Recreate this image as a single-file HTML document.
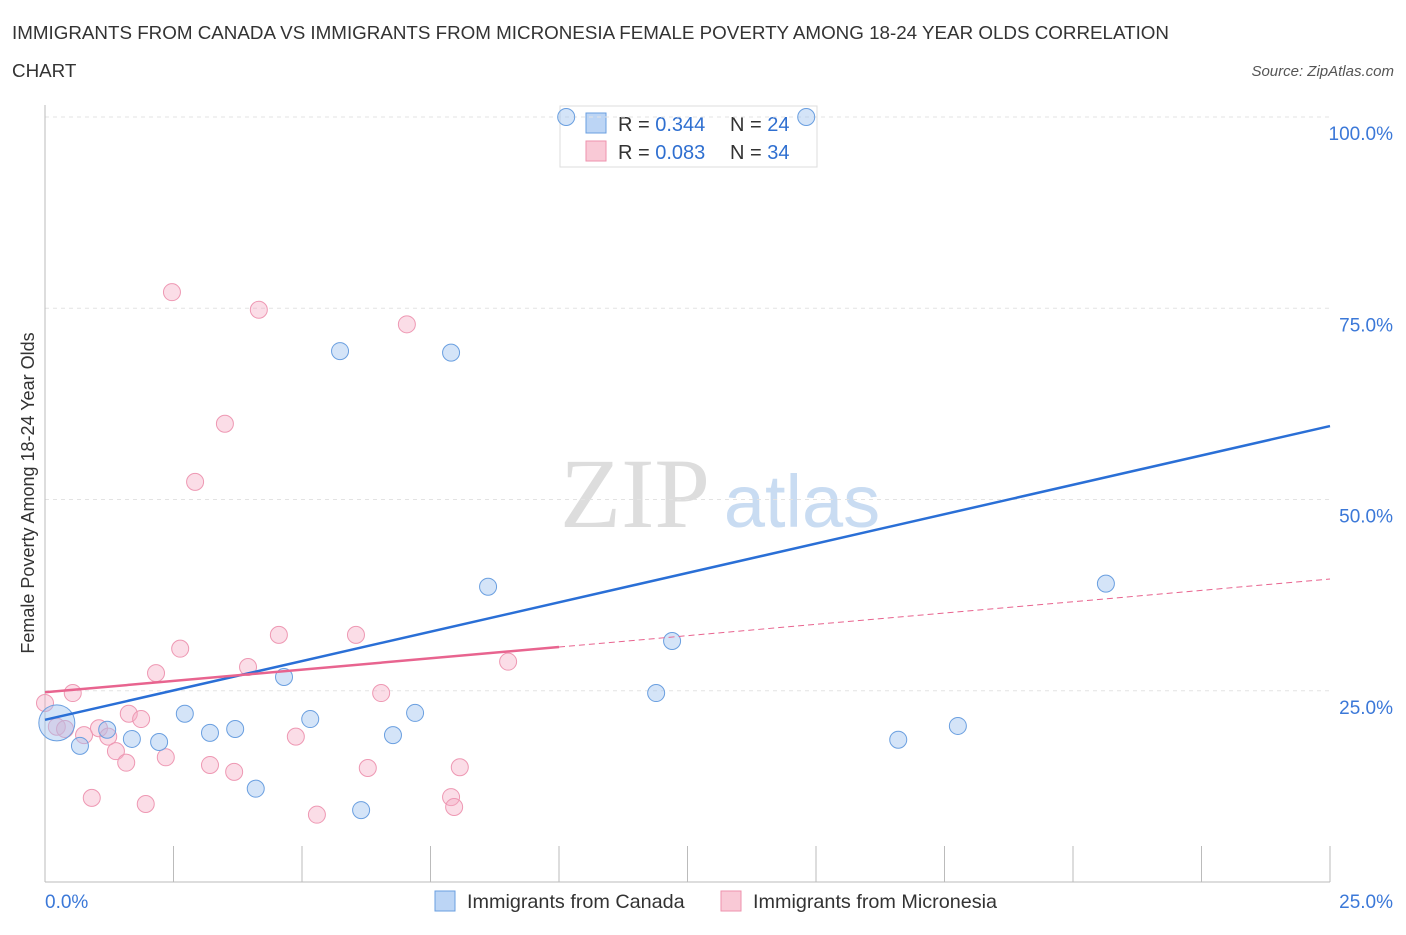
<!DOCTYPE html>
<html><head><meta charset="utf-8"><style>
body{margin:0;background:#fff;font-family:"Liberation Sans",sans-serif}
</style></head><body>
<svg width="1406" height="930" viewBox="0 0 1406 930" id="chart" font-family="Liberation Sans, sans-serif">
<text x="12" y="39" font-size="18.8" fill="#333">IMMIGRANTS FROM CANADA VS IMMIGRANTS FROM MICRONESIA FEMALE POVERTY AMONG 18-24 YEAR OLDS CORRELATION</text>
<text x="12" y="77" font-size="18.8" fill="#333">CHART</text>
<text x="1394" y="76" font-size="15" fill="#555" font-style="italic" text-anchor="end">Source: ZipAtlas.com</text>
<text x="635" y="527" font-size="100" fill="#ddd" style="font-family:'Liberation Serif',serif" text-anchor="middle">ZIP</text>
<text x="802" y="527" font-size="74" fill="#c9dcf2" text-anchor="middle">atlas</text>
<text transform="translate(34,493) rotate(-90)" font-size="18" fill="#333" text-anchor="middle">Female Poverty Among 18-24 Year Olds</text>
<g>
<rect x="560" y="106" width="257" height="61" fill="#fff" stroke="#ddd"/>
<rect x="586" y="113" width="20" height="20" fill="#bcd5f5" stroke="#6a9fe0"/>
<rect x="586" y="141" width="20" height="20" fill="#f9c9d6" stroke="#ee92ad"/>
<text x="618" y="131" font-size="20" fill="#333">R = <tspan fill="#2f6fd0">0.344</tspan></text>
<text x="730" y="131" font-size="20" fill="#333">N = <tspan fill="#2f6fd0">24</tspan></text>
<text x="618" y="159" font-size="20" fill="#333">R = <tspan fill="#2f6fd0">0.083</tspan></text>
<text x="730" y="159" font-size="20" fill="#333">N = <tspan fill="#2f6fd0">34</tspan></text>
</g>
<g id="grid"></g><g id="marks"></g>
<g>
<rect x="435" y="891" width="20" height="20" fill="#bcd5f5" stroke="#6a9fe0"/>
<text x="467" y="908" font-size="19.8" fill="#333">Immigrants from Canada</text>
<rect x="721" y="891" width="20" height="20" fill="#f9c9d6" stroke="#ee92ad"/>
<text x="753" y="908" font-size="19.8" fill="#333">Immigrants from Micronesia</text>
</g>
</svg>
<script>
const xTicks=[0,2.5,5,7.5,10,12.5,15,17.5,20,22.5,25];
const yTicks=[25,50,75,100];
const yTickLabels=["25.0%","50.0%","75.0%","100.0%"];
const canadaX=[0.23,0.68,1.21,1.69,2.22,2.72,3.21,3.70,4.10,4.65,5.16,5.74,6.15,6.77,7.20,7.90,8.62,10.14,11.89,12.20,14.81,16.60,17.76,20.64];
const canadaY=[20.8,17.8,19.9,18.7,18.3,22.0,19.5,20.0,12.2,26.8,21.3,69.4,9.4,19.2,22.1,69.2,38.6,100,24.7,31.5,100,18.6,20.4,39.0];
const microX=[0,0.23,0.39,0.54,0.76,0.91,1.05,1.23,1.38,1.58,1.63,1.87,1.96,2.16,2.35,2.47,2.63,2.92,3.21,3.50,3.68,3.95,4.16,4.55,4.88,5.29,6.05,6.28,6.54,7.04,7.90,7.96,8.07,9.01];
const microY=[23.4,20.3,20.0,24.7,19.2,11.0,20.1,19.0,17.1,15.6,22.0,21.3,10.2,27.3,16.3,77.1,30.5,52.3,15.3,59.9,14.4,28.1,74.8,32.3,19.0,8.8,32.3,14.9,24.7,72.9,11.1,9.8,15.0,28.8];
const canadaTrend=[21.2,59.6];
const microTrend=[24.8,39.6];
const microSolidEnd=10;
const X=v=>45+v/25*1285, Y=v=>882-v/100*765;
const NS="http://www.w3.org/2000/svg";
function mk(p,t,a){const e=document.createElementNS(NS,t);for(const k in a)e.setAttribute(k,a[k]);p.appendChild(e);return e;}
const g=document.getElementById('grid'), m=document.getElementById('marks');
yTicks.forEach((v,i)=>{
 const l=mk(g,'line',{x1:45,x2:1330,y1:Y(v),y2:Y(v),stroke:'#e3e3e3','stroke-dasharray':'4,4'});
 
 
 const t=mk(g,'text',{x:1393,y:Y(v)+23,'font-size':19,fill:'#3b78d8','text-anchor':'end'});t.textContent=yTickLabels[i];
 
 
});
const ax=mk(g,'line',{x1:45,x2:45,y1:105,y2:882,stroke:'#bbb'});


const bx=mk(g,'line',{x1:45,x2:1330,y1:882,y2:882,stroke:'#bbb'});


xTicks.forEach(v=>{const l=mk(g,'line',{x1:X(v),x2:X(v),y1:846,y2:882,stroke:'#bbb'});
 
 });
[[0,"0.0%",'start',45],[25,"25.0%",'end',1393]].forEach(a=>{const t=mk(g,'text',{x:a[3],y:908,'font-size':19,fill:'#3b78d8','text-anchor':a[2]});t.textContent=a[1];
 
 });
microX.forEach((x,i)=>{const c=mk(m,'circle',{cx:X(x),cy:Y(microY[i]),r:8.5,fill:'rgba(246,170,195,0.4)',stroke:'#ee98b3','stroke-width':1});
 
 });
canadaX.forEach((x,i)=>{const c=mk(m,'circle',{cx:X(x),cy:Y(canadaY[i]),r:i==0?18:8.5,fill:'rgba(160,195,240,0.45)',stroke:'#6a9fe0','stroke-width':1});
 
 });
const cl=mk(m,'line',{x1:X(0),y1:Y(canadaTrend[0]),x2:X(25),y2:Y(canadaTrend[1]),stroke:'#2a6fd6','stroke-width':2.5});


const mAt=v=>microTrend[0]+(microTrend[1]-microTrend[0])*v/25;
const ml=mk(m,'line',{x1:X(0),y1:Y(mAt(0)),x2:X(microSolidEnd),y2:Y(mAt(microSolidEnd)),stroke:'#e8648f','stroke-width':2.5});


const md=mk(m,'line',{x1:X(microSolidEnd),y1:Y(mAt(microSolidEnd)),x2:X(25),y2:Y(mAt(25)),stroke:'#e8648f','stroke-width':1,'stroke-dasharray':'6,4'});


</script>
</body></html>
